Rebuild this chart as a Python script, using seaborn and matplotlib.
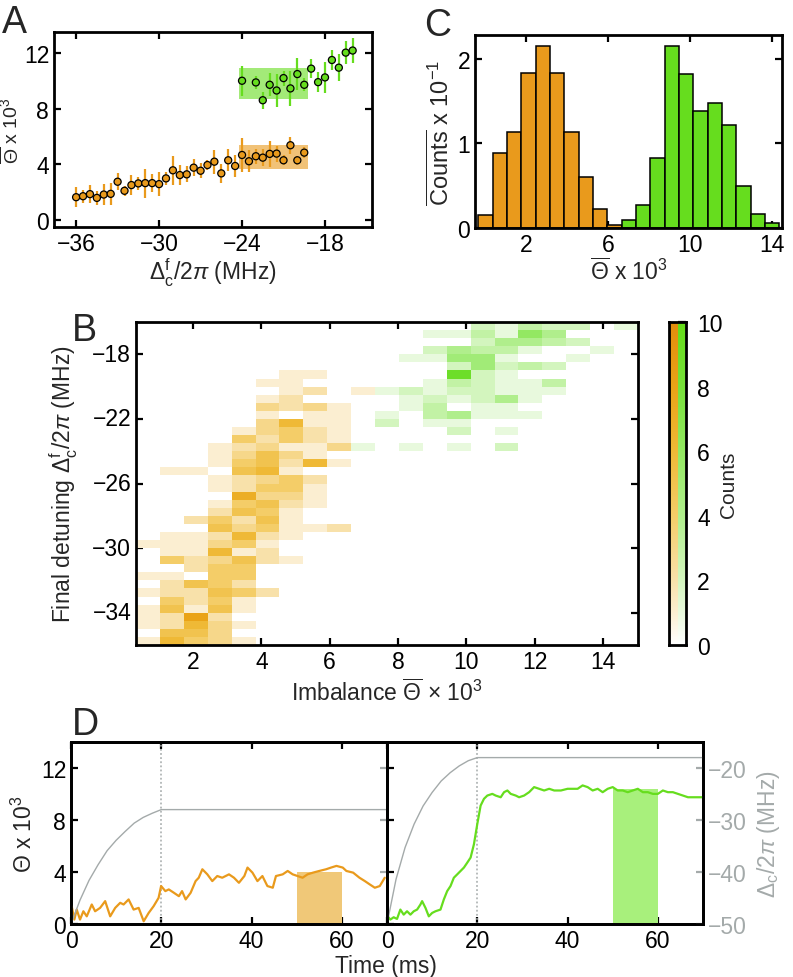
import matplotlib
matplotlib.use('Agg')
import matplotlib.pyplot as plt
import numpy as np
import pandas as pd
import seaborn as sns
from matplotlib.colors import LinearSegmentedColormap

# ---------------- data ----------------
# A: mean imbalance vs final detuning
det_orange = [-36.0, -35.5, -35.0, -34.5, -34.0, -33.5, -33.0, -32.5, -32.0, -31.5,
              -31.0, -30.5, -30.0, -29.5, -29.0, -28.5, -28.0, -27.5, -27.0, -26.5,
              -26.0, -25.5, -25.0, -24.5, -24.0, -23.5, -23.0, -22.5, -22.0, -21.5,
              -21.0, -20.5, -20.0, -19.5]
theta_orange = [1.64, 1.71, 1.86, 1.59, 1.83, 1.88, 2.75, 2.10, 2.51, 2.63,
                2.65, 2.65, 2.58, 2.99, 3.57, 3.23, 3.28, 3.76, 3.54, 3.95,
                4.19, 3.35, 4.29, 3.88, 4.67, 4.22, 4.58, 4.48, 4.75, 4.77,
                4.29, 5.37, 4.29, 4.84]
err_orange = [0.70, 0.47, 0.63, 0.48, 0.78, 0.80, 0.60, 0.36, 0.72, 0.48,
              1.05, 0.62, 0.87, 0.46, 1.06, 0.75, 0.57, 0.61, 0.53, 0.39,
              0.87, 0.70, 0.78, 0.76, 1.23, 0.78, 0.54, 0.60, 0.93, 0.57,
              0.36, 0.60, 0.34, 0.42]
det_green = [-24.0, -23.0, -22.5, -22.0, -21.5, -21.0, -20.5, -20.0, -19.5, -19.0,
             -18.5, -18.0, -17.5, -17.0, -16.5, -16.0]
theta_green = [10.00, 9.88, 8.60, 9.71, 9.30, 10.19, 9.45, 10.48, 9.71, 10.87,
               9.90, 10.24, 11.49, 10.94, 12.02, 12.17]
err_green = [1.08, 0.48, 0.60, 0.84, 1.20, 0.54, 1.26, 1.17, 0.48, 0.66,
             0.72, 1.10, 0.72, 0.96, 0.84, 0.90]
band_det = [-24.25, -19.25]
band_orange = [3.7, 5.4]
band_green = [8.7, 10.9]

# C: histogram of mean imbalance (counts x 10^-1)
hist_start, hist_bin = -0.33, 0.7
hist_orange = [0.15, 0.89, 1.13, 1.83, 2.15, 1.83, 1.13, 0.60, 0.23, 0.04]
hist_green = [0.10, 0.27, 0.83, 2.15, 1.82, 1.38, 1.48, 1.22, 0.50, 0.16, 0.06]

# B: 2D histogram, rows from -16 MHz down to -36 MHz (0.5 MHz), columns 0.33..15.03 (0.7)
det_top, det_bin, n_rows = -16.0, 0.5, 40
imb_start, imb_bin, n_cols = 0.33, 0.7, 21
# orange counts, columns 0..9
orange_counts = [
    [0, 0, 0, 0, 0, 0, 0, 0, 0, 0],
    [0, 0, 0, 0, 0, 0, 0, 0, 0, 0],
    [0, 0, 0, 0, 0, 0, 0, 0, 0, 0],
    [0, 0, 0, 0, 0, 0, 0, 0, 0, 0],
    [0, 0, 0, 0, 0, 0, 0, 0, 0, 0],
    [0, 0, 0, 0, 0, 0, 0, 0, 0, 0],
    [0, 0, 0, 0, 0, 0, 1, 1, 0, 0],
    [0, 0, 0, 0, 0, 1, 1, 0, 0, 0],
    [0, 0, 0, 0, 0, 0, 1, 2, 0, 1],
    [0, 0, 0, 0, 0, 1, 2, 0, 0, 0],
    [0, 0, 0, 0, 0, 3, 2, 3, 1, 0],
    [0, 0, 0, 0, 0, 1, 0, 1, 1, 0],
    [0, 0, 0, 0, 0, 3, 6, 1, 1, 0],
    [0, 0, 0, 0, 1, 3, 4, 2, 1, 0],
    [0, 0, 0, 0, 4, 2, 4, 2, 1, 0],
    [0, 0, 0, 1, 2, 3, 1, 1, 3, 0],
    [0, 0, 0, 1, 3, 5, 3, 1, 0, 0],
    [0, 0, 0, 1, 4, 5, 2, 6, 1, 0],
    [0, 1, 1, 0, 5, 6, 1, 0, 0, 0],
    [0, 0, 0, 1, 2, 3, 4, 2, 0, 0],
    [0, 0, 0, 1, 2, 4, 4, 1, 0, 0],
    [0, 0, 0, 0, 7, 3, 3, 1, 0, 0],
    [0, 0, 0, 1, 4, 5, 2, 1, 0, 0],
    [0, 0, 0, 2, 5, 4, 1, 0, 0, 0],
    [0, 0, 2, 4, 2, 5, 1, 0, 0, 0],
    [0, 0, 0, 5, 3, 4, 1, 1, 2, 0],
    [0, 1, 1, 2, 6, 2, 1, 0, 0, 0],
    [1, 1, 1, 3, 4, 1, 0, 0, 0, 0],
    [0, 1, 1, 6, 1, 2, 0, 0, 0, 0],
    [0, 4, 2, 3, 5, 2, 1, 0, 0, 0],
    [0, 0, 2, 4, 4, 0, 0, 0, 0, 0],
    [1, 1, 0, 4, 4, 0, 0, 0, 0, 0],
    [0, 2, 5, 4, 2, 0, 0, 0, 0, 0],
    [1, 2, 2, 5, 4, 2, 0, 0, 0, 0],
    [0, 4, 2, 4, 1, 0, 0, 0, 0, 0],
    [1, 5, 1, 5, 1, 0, 0, 0, 0, 0],
    [1, 2, 8, 2, 0, 0, 0, 0, 0, 0],
    [1, 2, 6, 3, 1, 0, 0, 0, 0, 0],
    [0, 5, 5, 3, 0, 0, 0, 0, 0, 0],
    [1, 6, 4, 3, 1, 0, 0, 0, 0, 0],
]
# green counts, rows 0..15, columns 9..20
green_counts = [
    [0, 0, 0, 0, 0, 2, 1, 3, 2, 2, 0, 1],
    [0, 0, 0, 1, 1, 3, 1, 6, 4, 0, 0, 0],
    [0, 0, 0, 0, 0, 2, 4, 4, 3, 2, 0, 0],
    [0, 0, 0, 2, 4, 3, 3, 1, 0, 0, 1, 0],
    [0, 0, 1, 1, 5, 5, 1, 0, 0, 1, 0, 0],
    [0, 0, 0, 0, 2, 5, 2, 3, 2, 0, 0, 0],
    [0, 0, 0, 0, 9, 2, 1, 0, 0, 0, 0, 0],
    [0, 0, 0, 1, 3, 2, 1, 1, 3, 0, 0, 0],
    [0, 1, 2, 1, 2, 2, 1, 1, 1, 0, 0, 0],
    [0, 0, 1, 2, 1, 2, 4, 1, 0, 0, 0, 0],
    [0, 0, 1, 3, 0, 1, 1, 0, 0, 0, 0, 0],
    [0, 1, 0, 3, 4, 1, 1, 1, 0, 0, 0, 0],
    [0, 2, 0, 1, 1, 0, 0, 0, 0, 0, 0, 0],
    [0, 0, 0, 0, 2, 0, 1, 0, 0, 0, 0, 0],
    [0, 0, 0, 0, 0, 0, 0, 0, 0, 0, 0, 0],
    [1, 0, 1, 0, 1, 0, 2, 0, 0, 0, 0, 0],
]

# D: single traces
t_orange = [0.15, 0.74, 1.26, 2.0, 2.74, 3.49, 4.6, 5.34, 6.45, 7.57,
            8.68, 9.79, 10.9, 11.65, 12.76, 13.87, 14.99, 16.1, 17.2, 18.3,
            19.4, 19.96, 20.9, 21.66, 22.8, 23.9, 24.6, 25.4, 26.5, 27.6,
            28.3, 29.1, 30.2, 31.3, 32.4, 33.5, 35.0, 36.1, 37.2, 38.4,
            39.1, 40.2, 41.3, 42.4, 43.5, 44.7, 45.4, 46.9, 48.0, 49.1,
            50.2, 51.3, 52.4, 53.6, 55.0, 56.5, 57.6, 58.8, 60.2, 61.0,
            62.5, 63.9, 65.1, 66.2, 67.3, 68.4, 69.5]
trace_orange = [1.37, 0.34, 1.11, 0.34, 0.98, 0.59, 1.5, 0.98, 1.24, 1.76,
                0.59, 1.24, 1.63, 1.5, 1.89, 1.11, 1.24, 0.21, 0.85, 1.37,
                2.01, 2.92, 2.53, 2.66, 2.4, 2.14, 2.53, 1.89, 2.4, 3.3,
                3.56, 4.21, 3.82, 3.3, 3.69, 3.56, 3.82, 3.56, 3.17, 3.69,
                4.34, 3.95, 3.3, 3.69, 2.92, 2.79, 3.69, 3.82, 4.08, 3.82,
                3.69, 3.56, 3.82, 3.95, 4.08, 4.21, 4.34, 4.47, 4.34, 4.08,
                3.95, 3.56, 3.3, 3.04, 2.79, 2.92, 3.56]
t_green = [0.15, 0.74, 1.48, 2.22, 2.96, 3.7, 4.44, 5.19, 5.93, 6.67,
           7.41, 7.78, 8.52, 9.26, 10.0, 10.74, 11.85, 12.59, 13.33, 14.07,
           14.81, 15.56, 16.3, 17.04, 17.78, 18.52, 19.26, 20.0, 20.74, 21.48,
           22.22, 23.33, 24.07, 25.19, 25.93, 26.67, 27.41, 28.52, 29.26, 30.37,
           31.48, 32.59, 33.7, 34.81, 35.93, 37.04, 38.52, 40.0, 41.11, 42.22,
           43.33, 44.44, 45.56, 46.67, 47.78, 48.89, 50.0, 51.11, 52.22, 53.33,
           54.44, 55.56, 56.67, 57.78, 58.89, 60.0, 61.11, 62.22, 63.33, 64.44,
           65.56, 66.67, 67.78, 68.89, 69.78]
trace_green = [0.59, 0.34, 0.52, 0.39, 1.11, 0.72, 0.98, 0.72, 0.98, 1.11,
               1.5, 1.76, 1.24, 0.59, 0.85, 0.98, 1.11, 1.89, 2.53, 2.92,
               3.56, 3.82, 4.08, 4.34, 4.72, 5.11, 6.14, 7.69, 9.11, 9.63,
               9.88, 10.01, 9.88, 9.75, 10.14, 10.27, 10.01, 9.88, 9.75, 9.88,
               10.14, 10.53, 10.4, 10.27, 10.4, 10.27, 10.27, 10.4, 10.4, 10.4,
               10.66, 10.53, 10.27, 10.4, 10.14, 10.4, 10.53, 10.27, 10.27, 10.14,
               10.27, 10.4, 10.14, 10.14, 10.01, 10.01, 10.27, 10.14, 10.14, 10.01,
               9.88, 9.75, 9.75, 9.75, 9.75]
t_ramp = [0, 2, 4, 6, 8, 10, 12, 14, 16, 18, 20, 70]
ramp_orange = [-50, -45.4, -41.6, -38.6, -35.9, -33.9, -32.2, -30.6, -29.5, -28.7, -28.0, -28.0]
ramp_green = [-50, -41.4, -35.3, -30.8, -27.3, -24.7, -22.5, -20.9, -19.6, -18.6, -18.0, -18.0]
window = [50, 60]
window_orange, window_green = 4.0, 10.4

# ---------------- style ----------------
ORANGE = '#E99A1C'
GREEN = '#66DD1E'
GRAY = '#A4AAAA'
FS = 16.5

sns.set_theme(style='ticks')
plt.rcParams['font.family'] = ['Liberation Sans', 'DejaVu Sans']
plt.rcParams.update({
    'mathtext.fontset': 'custom',
    'mathtext.rm': 'Liberation Sans',
    'mathtext.it': 'Liberation Sans:italic',
    'mathtext.bf': 'Liberation Sans:bold',
    'mathtext.sf': 'Liberation Sans',
    'axes.linewidth': 2.0,
    'axes.edgecolor': 'black',
    'xtick.direction': 'in',
    'ytick.direction': 'in',
    'xtick.major.size': 5,
    'ytick.major.size': 5,
    'xtick.major.width': 1.6,
    'ytick.major.width': 1.6,
    'xtick.labelsize': FS,
    'ytick.labelsize': FS,
    'axes.labelsize': FS,
    'xtick.color': 'black',
    'ytick.color': 'black',
})

W, H = 793, 978
fig = plt.figure(figsize=(W / 100, H / 100), dpi=100)


def add_ax(l, t, r, b, **kw):
    return fig.add_axes([l / W, 1 - b / H, (r - l) / W, (b - t) / H], **kw)


def box_ticks(ax):
    ax.tick_params(top=True, right=True, bottom=True, left=True, direction='in')


def minus(v):
    return f'{v:g}'.replace('-', '\u2212')


theta_bar = r'$\overline{\Theta}$'

# ---------------- panel A ----------------
ax_a = add_ax(54, 33, 372, 228)
ax_a.fill_between(band_det, band_orange[0], band_orange[1], color=ORANGE, alpha=0.6, lw=0)
ax_a.fill_between(band_det, band_green[0], band_green[1], color=GREEN, alpha=0.6, lw=0)
ax_a.errorbar(det_orange, theta_orange, yerr=err_orange, fmt='none', ecolor=ORANGE, elinewidth=1.6)
ax_a.errorbar(det_green, theta_green, yerr=err_green, fmt='none', ecolor=GREEN, elinewidth=1.6)
df_a = pd.concat([
    pd.DataFrame({'det': det_orange, 'theta': theta_orange, 'set': 'o'}),
    pd.DataFrame({'det': det_green, 'theta': theta_green, 'set': 'g'}),
])
sns.scatterplot(data=df_a, x='det', y='theta', hue='set', palette={'o': ORANGE, 'g': GREEN},
                edgecolor='black', linewidth=0.9, s=26, legend=False, zorder=4, ax=ax_a)
ax_a.set_xlim(-37.6, -14.6)
ax_a.set_ylim(-0.5, 13.5)
ax_a.set_xticks([-36, -30, -24, -18])
ax_a.set_xticklabels([minus(v) for v in [-36, -30, -24, -18]])
ax_a.set_yticks([0, 4, 8, 12])
ax_a.set_xlabel(r'$\Delta_\mathrm{c}^\mathrm{f}/2\pi$ (MHz)', labelpad=1)
ax_a.set_ylabel(theta_bar + r' x 10$^3$', fontsize=14)
ax_a.yaxis.set_label_coords((23 - 54) / 318, 0.5)
box_ticks(ax_a)

# ---------------- panel C ----------------
ax_c = add_ax(475, 36, 782, 229)
c_edges = [round(hist_start + hist_bin * k, 3) for k in range(len(hist_orange) + len(hist_green) + 1)]
c_centers = [e + hist_bin / 2 for e in c_edges[:-1]]
no = len(hist_orange)
df_co = pd.DataFrame({'x': c_centers[:no], 'w': hist_orange})
df_cg = pd.DataFrame({'x': c_centers[no:], 'w': hist_green})
sns.histplot(data=df_co, x='x', weights='w', bins=c_edges[:no + 1], color=ORANGE,
             alpha=1, edgecolor='black', linewidth=1.1, ax=ax_c)
sns.histplot(data=df_cg, x='x', weights='w', bins=c_edges[no:], color=GREEN,
             alpha=1, edgecolor='black', linewidth=1.1, ax=ax_c)
ax_c.set_xlim(-0.5, 14.5)
ax_c.set_ylim(0, 2.28)
ax_c.set_xticks([2, 6, 10, 14])
ax_c.set_yticks([0, 1, 2])
ax_c.set_xlabel(theta_bar + r' x 10$^3$', labelpad=1)
ax_c.set_ylabel(r'$\overline{\mathrm{Counts}}$ x 10$^{-1}$', fontsize=17)
ax_c.yaxis.set_label_coords((454 - 475) / 307, 0.5)
box_ticks(ax_c)

# ---------------- panel B ----------------
ax_b = add_ax(136, 323, 638, 646)
orange_full = np.zeros((n_rows, n_cols))
orange_full[:, :len(orange_counts[0])] = orange_counts
green_full = np.zeros((n_rows, n_cols))
green_full[:len(green_counts), 9:9 + len(green_counts[0])] = green_counts

cmap_orange = LinearSegmentedColormap.from_list(
    'or', [(0, '#FFFFFF'), (0.1, '#FBEED0'), (0.2, '#F8E1AA'), (0.4, '#F4CD68'),
           (0.6, '#EFB936'), (0.8, '#EAA317'), (1.0, '#E38D0C')])
cmap_green = LinearSegmentedColormap.from_list(
    'gr', [(0, '#FFFFFF'), (0.1, '#E8F9DC'), (0.2, '#D3F5BE'), (0.4, '#B0EE8C'),
           (0.6, '#93E862'), (0.8, '#77E03A'), (1.0, '#64DC18')])

sns.heatmap(orange_full, mask=orange_full == 0, cmap=cmap_orange, vmin=0, vmax=10,
            cbar=False, ax=ax_b)
sns.heatmap(green_full, mask=green_full == 0, cmap=cmap_green, vmin=0, vmax=10,
            cbar=False, ax=ax_b)
bx = [2, 4, 6, 8, 10, 12, 14]
by = [-18, -22, -26, -30, -34]
ax_b.set_xticks([(v - imb_start) / imb_bin for v in bx])
ax_b.set_xticklabels([str(v) for v in bx], rotation=0)
ax_b.set_yticks([(det_top - v) / det_bin for v in by])
ax_b.set_yticklabels([minus(v) for v in by], rotation=0)
ax_b.set_xlim(0, n_cols)
ax_b.set_ylim(n_rows, 0)
for sp in ax_b.spines.values():
    sp.set_visible(True)
    sp.set_linewidth(2.0)
box_ticks(ax_b)
ax_b.set_xlabel('Imbalance ' + theta_bar + r' $\times$ 10$^3$')
ax_b.set_ylabel(r'Final detuning $\Delta_\mathrm{c}^\mathrm{f}/2\pi$ (MHz)')
ax_b.yaxis.set_label_coords((80 - 136) / 502, 0.5)

# colour bar: left half orange, right half green
ax_cb = add_ax(669, 323, 686, 646)
grad = np.repeat(np.linspace(10, 0, 256)[:, None], 2, axis=1)
left_mask = np.zeros_like(grad, dtype=bool)
left_mask[:, 1] = True
sns.heatmap(grad, mask=left_mask, cmap=cmap_orange, vmin=0, vmax=10, cbar=False,
            xticklabels=False, yticklabels=False, ax=ax_cb)
sns.heatmap(grad, mask=~left_mask, cmap=cmap_green, vmin=0, vmax=10, cbar=False,
            xticklabels=False, yticklabels=False, ax=ax_cb)
for sp in ax_cb.spines.values():
    sp.set_visible(True)
    sp.set_linewidth(2.0)
cb_ticks = [0, 2, 4, 6, 8, 10]
ax_cb.set_yticks([(10 - v) / 10 * 256 for v in cb_ticks])
ax_cb.set_yticklabels([str(v) for v in cb_ticks], rotation=0)
ax_cb.yaxis.tick_right()
ax_cb.tick_params(axis='y', right=True, left=False, direction='in', length=6, pad=8)
ax_cb.set_xticks([])
ax_cb.set_ylabel('Counts', fontsize=15)
ax_cb.yaxis.set_label_position('right')
ax_cb.yaxis.set_label_coords((719 - 669) / 17, 0.5)

# ---------------- panel D ----------------
ax_d1 = add_ax(71, 743, 387, 925)
ax_d2 = add_ax(387, 743, 703, 925, sharey=ax_d1)
panels = [(ax_d1, t_orange, trace_orange, ramp_orange, ORANGE, window_orange, '#F0C878'),
          (ax_d2, t_green, trace_green, ramp_green, GREEN, window_green, '#A8F07C')]
twins = []
for ax, tt, tr, ramp, col, wv, wcol in panels:
    ax.fill_between(window, 0, wv, color=wcol, lw=0, zorder=1)
    ax.axvline(20, color=GRAY, ls=(0, (1.2, 1.5)), lw=1.1, zorder=1)
    sns.lineplot(x=tt, y=tr, color=col, lw=1.6, estimator=None, sort=False, ax=ax, zorder=3)
    ax.set_xlim(0, 70)
    ax.set_ylim(0, 14)
    ax.set_xticks([0, 20, 40, 60])
    ax.set_yticks([0, 4, 8, 12])
    ax.tick_params(top=True, right=False, left=True, bottom=True)
    tw = ax.twinx()
    sns.lineplot(x=t_ramp, y=ramp, color=GRAY, lw=1.0, estimator=None, sort=False, ax=tw, zorder=2)
    tw.set_ylim(-50, -15)
    tw.set_yticks([-50, -40, -30, -20])
    tw.tick_params(axis='y', direction='in', colors=GRAY, labelcolor=GRAY, length=5, width=1.6)
    tw.spines['right'].set_color('black')
    twins.append(tw)

ax_d1.set_ylabel(r'$\Theta$ x 10$^3$')
ax_d1.yaxis.set_label_coords((37 - 71) / 316, 0.5)
ax_d2.tick_params(labelleft=False)
ax_d2.set_ylabel('')
ax_d1.set_xlabel('')
ax_d2.set_xlabel('')
twins[0].tick_params(labelright=False)
twins[0].set_yticks([-40, -30, -20])
twins[1].set_yticklabels([minus(v) for v in [-50, -40, -30, -20]])
twins[1].set_ylabel(r'$\Delta_\mathrm{c}/2\pi$ (MHz)', color=GRAY)
twins[1].yaxis.set_label_coords((755 - 387) / 316, 0.5)
fig.text(386 / W, 1 - 967 / H, 'Time (ms)', ha='center', va='center', fontsize=FS)

# panel letters
for letter, x, y in [('A', 2, 5), ('C', 424, 8), ('B', 72, 313), ('D', 72, 707)]:
    fig.text(x / W, 1 - y / H, letter, fontsize=27, ha='left', va='top')

fig.savefig('out.png', dpi=100)
